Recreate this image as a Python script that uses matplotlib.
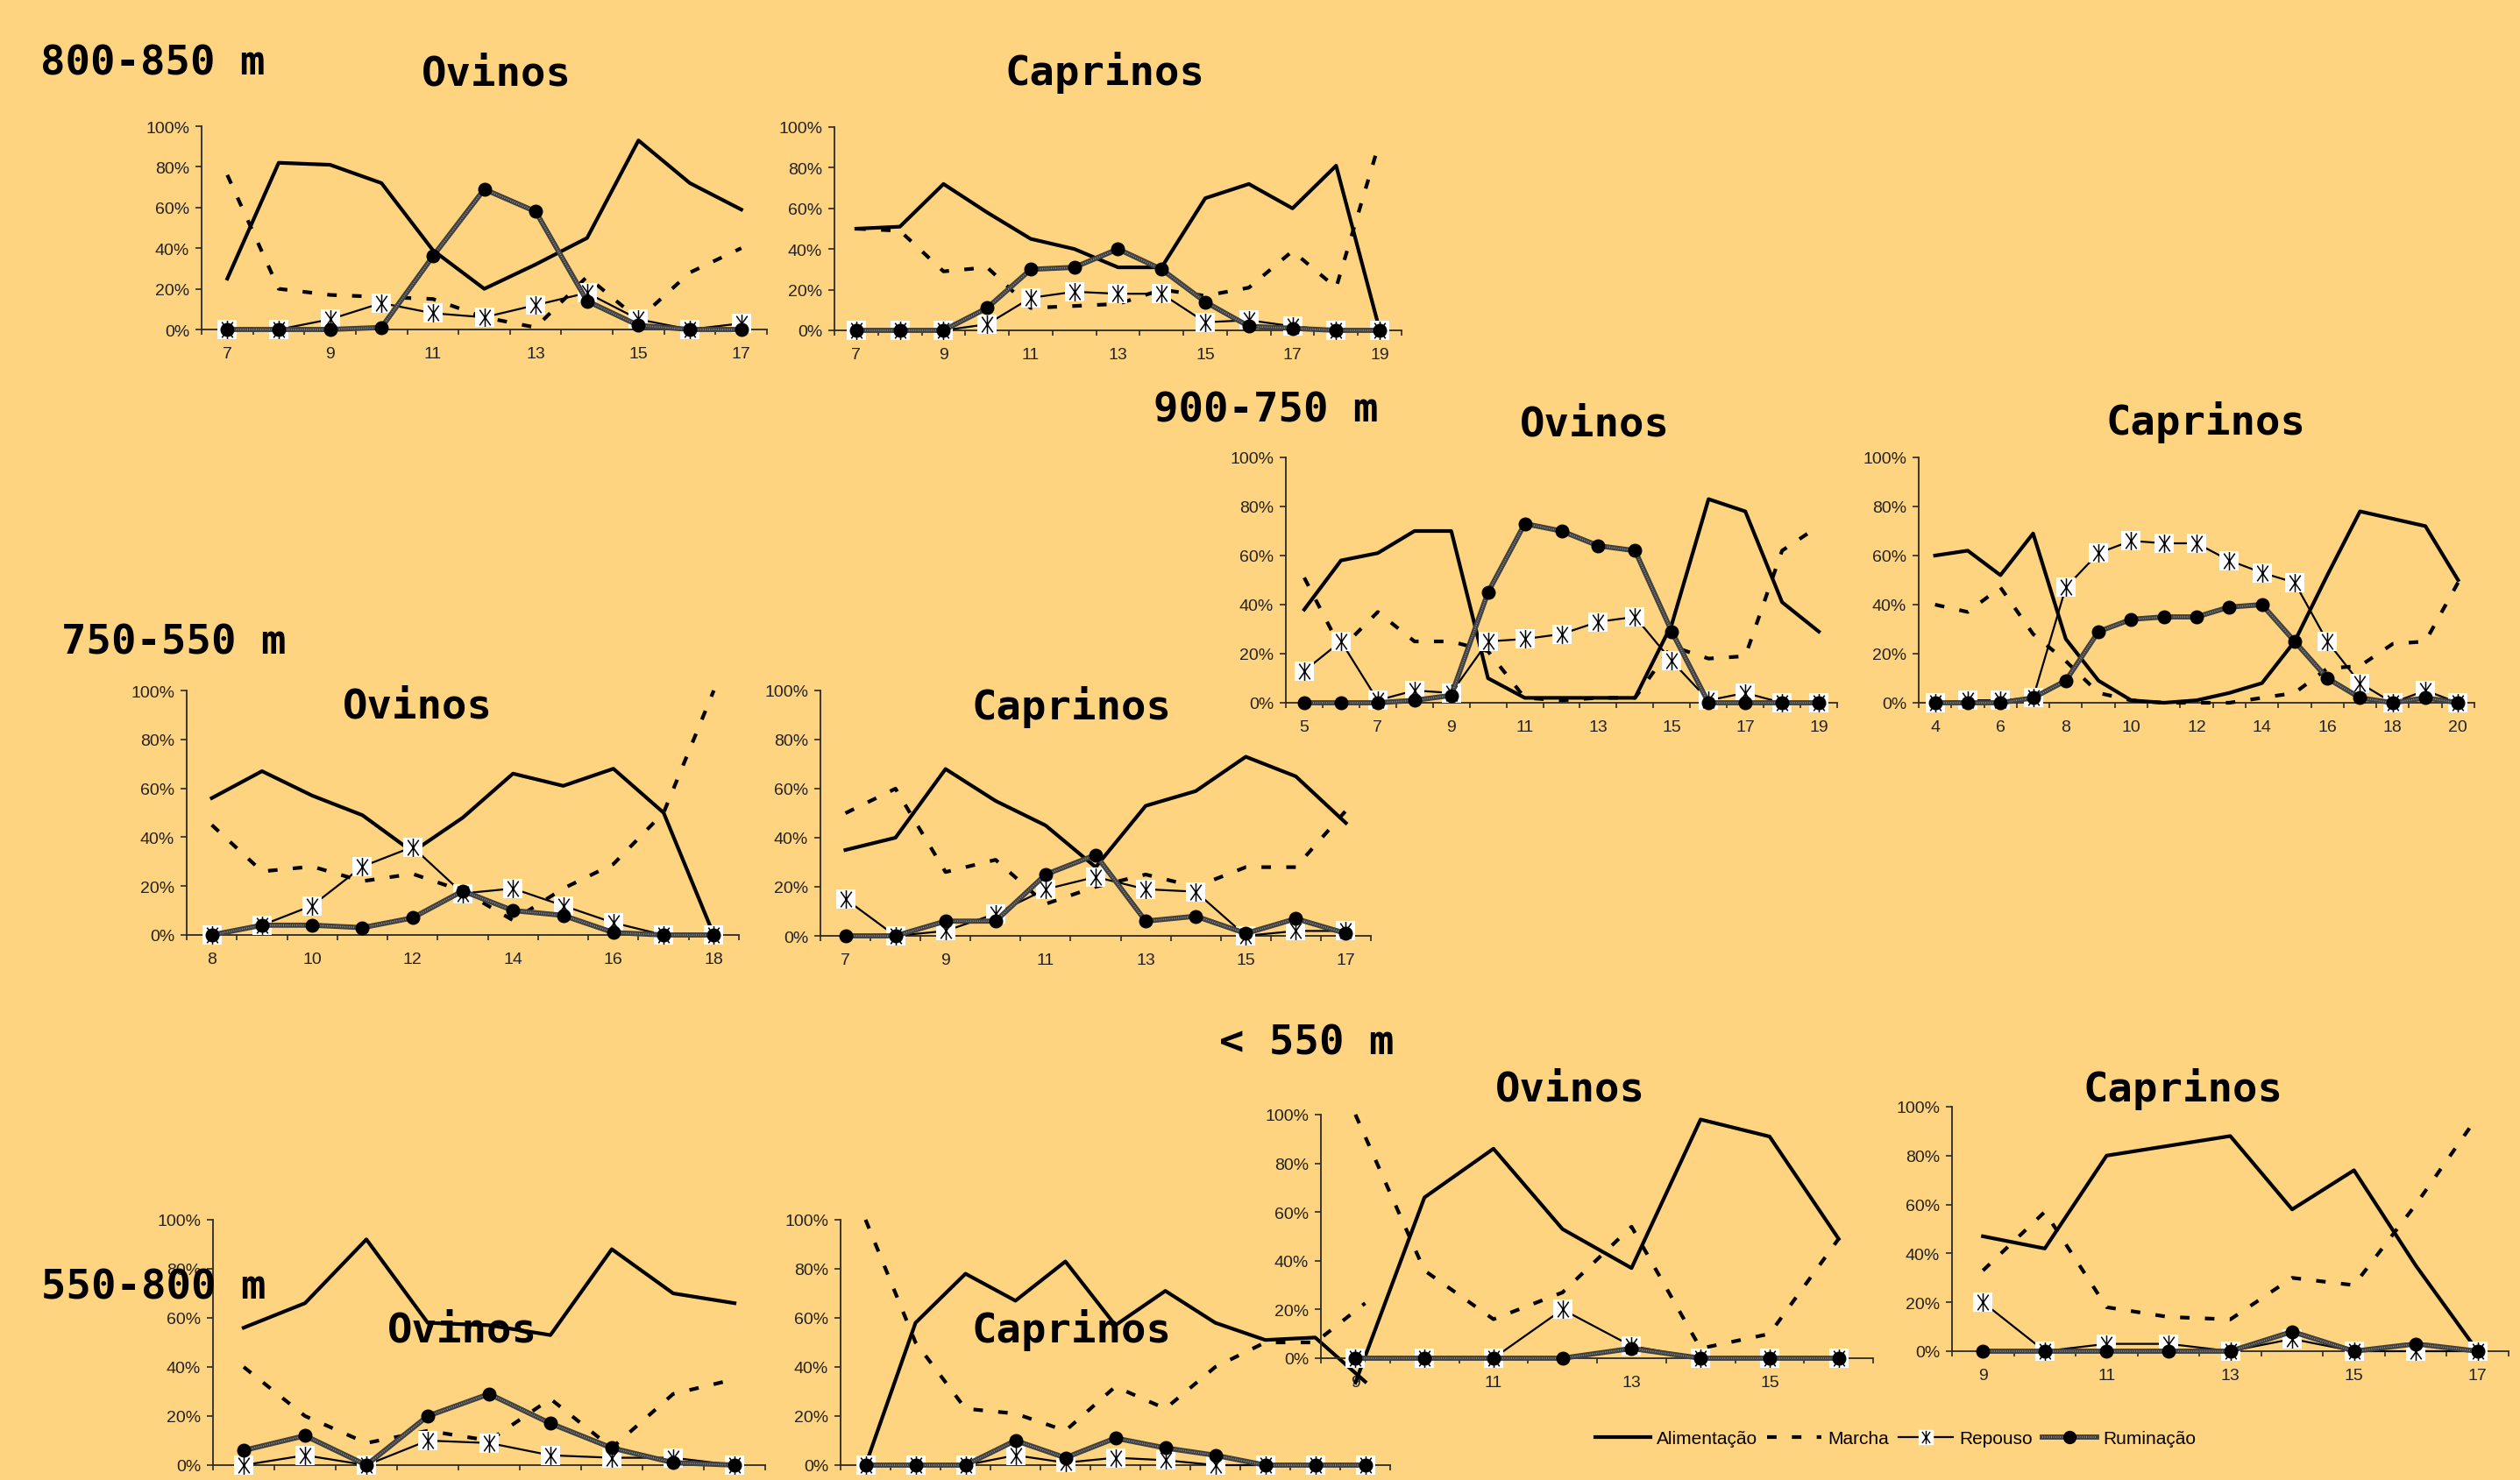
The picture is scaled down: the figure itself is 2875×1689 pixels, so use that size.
import numpy as np
import matplotlib
matplotlib.use("Agg")
import matplotlib.pyplot as plt
from matplotlib.path import Path
from matplotlib.lines import Line2D

plt.rcParams["font.family"] = ["Liberation Sans", "DejaVu Sans"]

W, H = 2875, 1690
bg = "#FED480"

# 800-850 m, Ovinos
h_a = [7, 8, 9, 10, 11, 12, 13, 14, 15, 16, 17]
ali_a = [25, 82, 81, 72, 39, 20, 32, 45, 93, 72, 59]
mar_a = [76, 20, 17, 16, 15, 6, 1, 26, 5, 28, 40]
rep_a = [0, 0, 5, 13, 8, 6, 12, 18, 5, 0, 3]
rum_a = [0, 0, 0, 1, 36, 69, 58, 14, 2, 0, 0]

# 800-850 m, Caprinos
h_b = [7, 8, 9, 10, 11, 12, 13, 14, 15, 16, 17, 18, 19]
ali_b = [50, 51, 72, 58, 45, 40, 31, 31, 65, 72, 60, 81, 0]
mar_b = [50, 49, 29, 31, 11, 12, 13, 20, 17, 21, 39, 21, 93]
rep_b = [0, 0, 0, 3, 16, 19, 18, 18, 4, 5, 2, 0, 0]
rum_b = [0, 0, 0, 11, 30, 31, 40, 30, 14, 2, 1, 0, 0]

# 900-750 m, Ovinos
h_c = [5, 6, 7, 8, 9, 10, 11, 12, 13, 14, 15, 16, 17, 18, 19]
ali_c = [38, 58, 61, 70, 70, 10, 2, 2, 2, 2, 32, 83, 78, 41, 29]
mar_c = [51, 22, 37, 25, 25, 21, 2, 1, 2, 2, 23, 18, 19, 62, 72]
rep_c = [13, 25, 1, 5, 4, 25, 26, 28, 33, 35, 17, 1, 4, 0, 0]
rum_c = [0, 0, 0, 1, 3, 45, 73, 70, 64, 62, 29, 0, 0, 0, 0]

# 900-750 m, Caprinos
h_d = [4, 5, 6, 7, 8, 9, 10, 11, 12, 13, 14, 15, 16, 17, 18, 19, 20]
ali_d = [60, 62, 52, 69, 26, 9, 1, 0, 1, 4, 8, 25, 52, 78, 75, 72, 50]
mar_d = [40, 37, 47, 28, 17, 4, 1, 0, 0, 0, 2, 4, 14, 15, 24, 25, 49]
rep_d = [0, 1, 1, 2, 47, 61, 66, 65, 65, 58, 53, 49, 25, 8, 0, 5, 0]
rum_d = [0, 0, 0, 2, 9, 29, 34, 35, 35, 39, 40, 25, 10, 2, 0, 2, 0]

# 750-550 m, Ovinos
h_e = [8, 9, 10, 11, 12, 13, 14, 15, 16, 17, 18]
ali_e = [56, 67, 57, 49, 34, 48, 66, 61, 68, 50, 0]
mar_e = [45, 26, 28, 22, 25, 18, 6, 19, 29, 50, 100]
rep_e = [0, 4, 12, 28, 36, 17, 19, 12, 5, 0, 0]
rum_e = [0, 4, 4, 3, 7, 18, 10, 8, 1, 0, 0]

# 750-550 m, Caprinos
h_f = [7, 8, 9, 10, 11, 12, 13, 14, 15, 16, 17]
ali_f = [35, 40, 68, 55, 45, 28, 53, 59, 73, 65, 46]
mar_f = [50, 60, 26, 31, 13, 20, 25, 20, 28, 28, 51]
rep_f = [15, 0, 2, 9, 19, 24, 19, 18, 0, 2, 2]
rum_f = [0, 0, 6, 6, 25, 33, 6, 8, 1, 7, 1]

# < 550 m, Ovinos
h_g = [9, 10, 11, 12, 13, 14, 15, 16]
ali_g = [-10, 66, 86, 53, 37, 98, 91, 49]
mar_g = [100, 36, 16, 27, 54, 4, 10, 49]
rep_g = [0, 0, 0, 20, 5, 0, 0, 0]
rum_g = [0, 0, 0, 0, 4, 0, 0, 0]

# < 550 m, Caprinos
h_h = [9, 10, 11, 12, 13, 14, 15, 16, 17]
ali_h = [47, 42, 80, 84, 88, 58, 74, 35, 0]
mar_h = [33, 57, 18, 14, 13, 30, 27, 60, 96]
rep_h = [20, 0, 3, 3, 0, 5, 0, 0, 0]
rum_h = [0, 0, 0, 0, 0, 8, 0, 3, 0]

# 550-800 m, Ovinos (hour labels fall below the picture)
h_i = [8, 9, 10, 11, 12, 13, 14, 15, 16]
ali_i = [56, 66, 92, 58, 57, 53, 88, 70, 66]
mar_i = [40, 20, 9, 14, 10, 27, 7, 29, 35]
rep_i = [0, 4, 0, 10, 9, 4, 3, 3, 0]
rum_i = [6, 12, 0, 20, 29, 17, 7, 1, 0]

# 550-800 m, Caprinos (hour labels fall below the picture)
h_j = [7, 8, 9, 10, 11, 12, 13, 14, 15, 16, 17]
ali_j = [0, 58, 78, 67, 83, 57, 71, 58, 51, 52, 34]
mar_j = [100, 50, 23, 21, 14, 32, 23, 40, 50, 50, 66]
rep_j = [0, 0, 0, 4, 1, 3, 2, 0, 0, 0, 0]
rum_j = [0, 0, 0, 10, 3, 11, 7, 4, 0, 0, 0]

legend_labels = ["Alimentação", "Marcha", "Repouso", "Ruminação"]

star = Path([(0, -1), (0, 1), (-0.6, -0.85), (0.6, 0.85), (-0.6, 0.85), (0.6, -0.85)],
            [Path.MOVETO, Path.LINETO, Path.MOVETO, Path.LINETO, Path.MOVETO, Path.LINETO])
dash = (0, (2.6, 4.2))

fig = plt.figure(figsize=(W / 100, H / 100), dpi=100, facecolor=bg)


def panel(x0, x1, y100, y0, hours, ali, mar, rep, rum, xlabels=True):
    ax = fig.add_axes([x0 / W, 1 - y0 / H, (x1 - x0) / W, (y0 - y100) / H])
    ax.patch.set_visible(False)
    pos = np.arange(len(hours))
    ax.plot(pos, ali, color="black", lw=3, clip_on=False, zorder=3)
    ax.plot(pos, mar, color="black", lw=3, ls=dash, dash_capstyle="butt", clip_on=False, zorder=3)
    ax.plot(pos, rep, color="black", lw=1.6, clip_on=False, zorder=4)
    ax.plot(pos, rep, ls="none", marker="s", ms=16, mfc="white", mew=0, clip_on=False, zorder=5)
    ax.plot(pos, rep, ls="none", marker=star, ms=15, mfc="none", mec="black", mew=1.1,
            clip_on=False, zorder=6)
    ax.plot(pos, rum, color="#404040", lw=4.2, clip_on=False, zorder=7)
    ax.plot(pos, rum, color="#8f8f8f", lw=1.2, ls=(0, (0.6, 0.9)), clip_on=False, zorder=7)
    ax.plot(pos, rum, ls="none", marker="o", ms=10.5, color="black", clip_on=False, zorder=8)

    ax.set_xlim(-0.5, len(hours) - 0.5)
    ax.set_ylim(0, 100)
    for s in ["top", "right"]:
        ax.spines[s].set_visible(False)
    for s in ["left", "bottom"]:
        ax.spines[s].set_color("#2a2a2a")
        ax.spines[s].set_linewidth(1.3)
    ax.set_yticks([0, 20, 40, 60, 80, 100])
    ax.set_yticklabels([f"{v}%" for v in [0, 20, 40, 60, 80, 100]])
    ax.set_xticks(np.arange(len(hours) + 1) - 0.5)
    ax.set_xticklabels([])
    ax.set_xticks(pos, minor=True)
    ax.set_xticklabels([str(h) if i % 2 == 0 else "" for i, h in enumerate(hours)], minor=True)
    ax.tick_params(axis="x", which="major", direction="out", length=4.5, width=1.2, color="#2a2a2a")
    ax.tick_params(axis="x", which="minor", length=0, pad=14, labelsize=14, labelcolor="#222222",
                   labelbottom=xlabels)
    ax.tick_params(axis="y", direction="out", length=5, width=1.2, pad=5, labelsize=14,
                   color="#2a2a2a", labelcolor="#222222")
    return ax


def title(x, y, s):
    fig.text(x / W, 1 - y / H, s, ha="center", va="baseline", fontsize=34,
             family="DejaVu Sans Mono", weight="bold", zorder=10)


panel(230, 875, 145, 377, h_a, ali_a, mar_a, rep_a, rum_a)
panel(952, 1599, 146, 378, h_b, ali_b, mar_b, rep_b, rum_b)
panel(1467, 2096, 523, 803, h_c, ali_c, mar_c, rep_c, rum_c)
panel(2189, 2823, 523, 803, h_d, ali_d, mar_d, rep_d, rum_d)
panel(213, 843, 789, 1068, h_e, ali_e, mar_e, rep_e, rum_e)
panel(936, 1564, 789, 1069, h_f, ali_f, mar_f, rep_f, rum_f)
panel(959, 1586, 1393, 1673, h_j, ali_j, mar_j, rep_j, rum_j, xlabels=False)
panel(243, 873, 1393, 1673, h_i, ali_i, mar_i, rep_i, rum_i, xlabels=False)
panel(1507, 2137, 1273, 1551, h_g, ali_g, mar_g, rep_g, rum_g)
panel(2227, 2862, 1264, 1543, h_h, ali_h, mar_h, rep_h, rum_h)

title(174, 85, "800-850 m")
title(566, 98, "Ovinos")
title(1261, 97, "Caprinos")
title(1444, 482, "900-750 m")
title(1819, 497, "Ovinos")
title(2517, 496, "Caprinos")
title(198, 747, "750-550 m")
title(476, 820, "Ovinos")
title(1223, 821, "Caprinos")
title(1491, 1203, "< 550 m")
title(1791, 1257, "Ovinos")
title(2490, 1257, "Caprinos")
title(175, 1483, "550-800 m")
title(527, 1532, "Ovinos")
title(1223, 1532, "Caprinos")

handles = [
    Line2D([], [], color="black", lw=3),
    Line2D([], [], color="black", lw=3, ls=dash, dash_capstyle="butt"),
    (Line2D([], [], color="black", lw=1.6, marker="s", ms=12, mfc="white", mec="white"),
     Line2D([], [], ls="none", marker=star, ms=11, mec="black", mew=1.0)),
    (Line2D([], [], color="#404040", lw=4.2),
     Line2D([], [], color="#8f8f8f", lw=1.2, ls=(0, (0.6, 0.9))),
     Line2D([], [], ls="none", marker="o", ms=10, color="black")),
]
fig.legend(handles, legend_labels, loc="center left", bbox_to_anchor=(1810 / W, 1 - 1643 / H),
           ncol=4, frameon=False, borderpad=0, handlelength=3.0, handletextpad=0.35,
           columnspacing=0.5, fontsize=15, numpoints=1)

fig.savefig("out.png", dpi=100, facecolor=bg)
